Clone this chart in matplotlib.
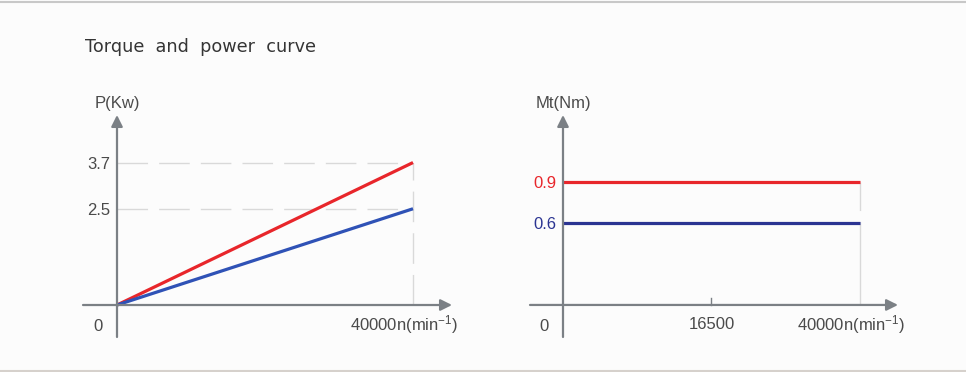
import numpy as np
import matplotlib
matplotlib.use('Agg')
import matplotlib.pyplot as plt
from matplotlib.lines import Line2D

# data
speed = [0, 40000]                 # n (min^-1)
power_high = [0, 3.7]              # P (kW), red
power_low = [0, 2.5]               # P (kW), blue
torque_speed = [0, 40000]
torque_high = [0.9, 0.9]           # Mt (Nm), red
torque_low = [0.6, 0.6]            # Mt (Nm), navy
speed_ticks = [16500, 40000]
title = 'Torque  and  power  curve'

RED = '#e8262b'
BLUE = '#2f52b6'
NAVY = '#2b3492'
AXIS = '#7b8085'
GRID = '#d9d9d9'
TEXT = '#4a4a4a'
FS = 12

plt.rcParams['font.family'] = ['Liberation Sans', 'DejaVu Sans']
plt.rcParams['mathtext.fontset'] = 'custom'
plt.rcParams['mathtext.rm'] = 'Liberation Sans'
plt.rcParams['mathtext.it'] = 'Liberation Sans:italic'

W, H = 966, 372
fig = plt.figure(figsize=(W / 100, H / 100), dpi=100, facecolor='#fcfcfc')


def px_axes(x0, x1, y0, y1):
    # axes from pixel box (top-left origin)
    return fig.add_axes([x0 / W, 1 - y1 / H, (x1 - x0) / W, (y1 - y0) / H])


def draw_axes(ax, xlab_text, ylab_text):
    ax.set_facecolor('none')
    for s in ax.spines.values():
        s.set_color('none')
    ax.spines['left'].set_position(('data', 0))
    ax.spines['bottom'].set_position(('data', 0))
    xlo, xhi = ax.get_xlim()
    ylo, yhi = ax.get_ylim()
    arrow = dict(arrowstyle='-|>', color=AXIS, lw=1.6, mutation_scale=17,
                 shrinkA=0, shrinkB=0)
    ax.annotate('', xy=(xhi, 0), xytext=(xlo, 0), arrowprops=arrow)
    ax.annotate('', xy=(0, yhi), xytext=(0, ylo), arrowprops=arrow)
    ax.annotate(ylab_text, xy=(0, yhi), xytext=(0, 8.5), textcoords='offset points',
                ha='center', va='center', fontsize=FS, color=TEXT)
    ax.annotate('0', xy=(0, 0), xytext=(-13.7, -15.8), textcoords='offset points',
                ha='center', va='center', fontsize=FS, color=TEXT)
    ax.annotate(xlab_text, xy=(speed_ticks[-1], 0), xytext=(-6.5, -14.4),
                textcoords='offset points', ha='center', va='center',
                fontsize=FS, color=TEXT)
    ax.tick_params(axis='y', length=0, pad=5, labelsize=FS, labelcolor=TEXT)
    ax.set_xticks([])


dash = (0, (22, 8))
xlabel = '40000n(min$^{-1}$)'

# left: power
ax1 = px_axes(83, 452, 115, 337)
ax1.set_xlim(-4595, 45270)
ax1.set_ylim(-0.831, 4.935)
for v in power_high[-1:] + power_low[-1:]:
    ax1.plot([speed[0], speed[-1]], [v, v], color=GRID, lw=1, ls=dash, zorder=1)
ax1.plot([speed[-1], speed[-1]], [0, power_high[-1]], color=GRID, lw=1, ls=dash, zorder=1)
ax1.plot(speed, power_high, color=RED, lw=2.3, zorder=3, solid_capstyle='butt')
ax1.plot(speed, power_low, color=BLUE, lw=2.3, zorder=3, solid_capstyle='butt')
ax1.set_yticks([power_high[-1], power_low[-1]])
ax1.set_yticklabels(['3.7', '2.5'])
draw_axes(ax1, xlabel, 'P(Kw)')

# right: torque (speed axis is schematic: 16500 sits mid-way)
kx = np.array([-1e6, 0, 16500, 40000, 1e6])
kt = np.array([-1e6 / 33000, 0, 0.5, 1, 1 + 960000 / 47000])


def fwd(x):
    return np.interp(x, kx, kt)


def inv(t):
    return np.interp(t, kt, kx)


ax2 = px_axes(530, 898, 115, 337)
ax2.set_xscale('function', functions=(fwd, inv))
ax2.set_xlim(-3667, 46020)
ax2.set_ylim(-0.234, 1.387)
ax2.plot([torque_speed[-1], torque_speed[-1]], [0, torque_high[-1]], color=GRID,
         lw=1, ls=(0, (60, 8)), zorder=1)
ax2.plot(torque_speed, torque_high, color=RED, lw=2.3, zorder=3, solid_capstyle='butt')
ax2.plot(torque_speed, torque_low, color=NAVY, lw=2.3, zorder=3, solid_capstyle='butt')
ax2.set_yticks([torque_high[0], torque_low[0]])
ax2.set_yticklabels(['0.9', '0.6'])
draw_axes(ax2, xlabel, 'Mt(Nm)')
for lab, c in zip(ax2.get_yticklabels(), [RED, NAVY]):
    lab.set_color(c)
ax2.plot([speed_ticks[0]] * 2, [0, 0.05], color=AXIS, lw=1, zorder=2)
ax2.annotate(str(speed_ticks[0]), xy=(speed_ticks[0], 0), xytext=(0, -14.4),
             textcoords='offset points', ha='center', va='center',
             fontsize=FS, color=TEXT)

fig.text(85 / W, 1 - 47 / H, title, family='DejaVu Sans', fontsize=12.7,
         color='#353535', ha='left', va='center')

# frame lines top and bottom
fig.add_artist(Line2D([0, 1], [1 - 1.5 / H] * 2, color='#c8c8c8', lw=1.5))
fig.add_artist(Line2D([0, 1], [1.5 / H] * 2, color='#d6d1cc', lw=1.5))

fig.savefig('out.png', dpi=100, facecolor=fig.get_facecolor())
